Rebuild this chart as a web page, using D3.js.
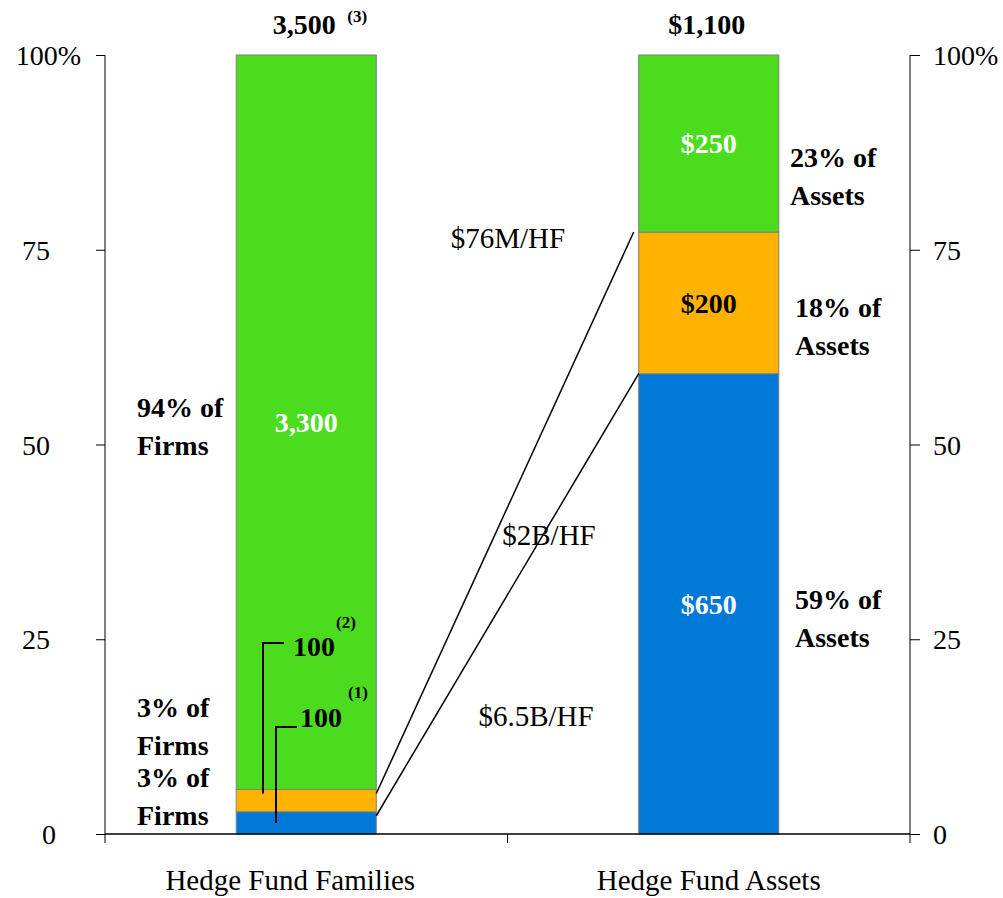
<!DOCTYPE html>
<html>
<head>
<meta charset="utf-8">
<script src="https://cdn.jsdelivr.net/npm/d3@7"></script>
<style>
  html, body { margin: 0; padding: 0; background: #fff; }
  svg { display: block; font-family: "Liberation Serif", "Times New Roman", serif; }
</style>
</head>
<body>
<svg id="chart" width="1003" height="898"></svg>
<script>
// Categories on the x axis
const categories = ["Hedge Fund Families", "Hedge Fund Assets"];

// Stack order, bottom to top
const tiers = ["top", "middle", "rest"];
const tierColors = ["#0078d7", "#ffb300", "#4cdc1e"];

// Number of hedge fund families in each tier
const familyCounts = [100, 100, 3300];
// Assets ($B) held by each tier
const assetValues = [650, 200, 250];

// Totals printed above the bars
const totalLabels = ["3,500", "$1,100"];
const totalNotes = ["(3)", ""];

// Labels inside the segments
const familySegmentLabels = ["100", "100", "3,300"];
const familyNotes = ["(1)", "(2)", ""];
const assetSegmentLabels = ["$650", "$200", "$250"];

// Share captions next to the bars
const familyShares = [["3% of", "Firms"], ["3% of", "Firms"], ["94% of", "Firms"]];
const assetShares = [["59% of", "Assets"], ["18% of", "Assets"], ["23% of", "Assets"]];

// Average assets per fund in each tier
const perFund = ["$6.5B/HF", "$2B/HF", "$76M/HF"];

// Axis ticks
const yTicks = [0, 25, 50, 75, 100];

const svg = d3.select("#chart");
const plotL = 105, plotR = 910, plotT = 55, plotB = 834;

const x = d3.scaleBand().domain(categories).range([plotL, plotR]).padding(0);
const y = d3.scaleLinear().domain([0, 100]).range([plotB, plotT]);
const barW = x.bandwidth() * 0.348;
const barX = c => x(c) + (x.bandwidth() - barW) / 2;

// Percent-stacked series
function stackPct(vals) {
  const total = d3.sum(vals);
  let acc = 0;
  return vals.map((v, i) => {
    const y0 = acc / total * 100;
    acc += v;
    return { tier: tiers[i], i, y0, y1: acc / total * 100, value: v };
  });
}
const stacks = [stackPct(familyCounts), stackPct(assetValues)];

// Bars
stacks.forEach((segs, ci) => {
  svg.append("g").selectAll("rect").data(segs).join("rect")
    .attr("x", barX(categories[ci]))
    .attr("width", barW)
    .attr("y", d => y(d.y1))
    .attr("height", d => y(d.y0) - y(d.y1))
    .attr("fill", d => tierColors[d.i])
    .attr("stroke", "#7f7f7f")
    .attr("stroke-width", 1);
});

// Axes
const fmtTick = d => d === 100 ? "100%" : String(d);
const yLeft = svg.append("g").attr("transform", `translate(${plotL},0)`)
  .call(d3.axisLeft(y).tickValues(yTicks).tickSize(9).tickFormat(fmtTick));
const yRight = svg.append("g").attr("transform", `translate(${plotR},0)`)
  .call(d3.axisRight(y).tickValues(yTicks).tickSize(10).tickFormat(fmtTick));
[yLeft, yRight].forEach(g => {
  g.select(".domain").attr("stroke", "#000").attr("d", `M0,${plotT}V${plotB}`);
  g.selectAll(".tick line").attr("stroke", "#000");
  g.selectAll(".tick text").attr("font-size", 28).attr("fill", "#000")
    .attr("font-family", "Liberation Serif").attr("dy", "0.34em");
});
yLeft.selectAll(".tick text").attr("x", d => d === 100 ? -24 : d === 0 ? -49 : -55);
yRight.selectAll(".tick text").attr("x", 23);

// Baseline and category ticks
const xAxis = svg.append("g");
xAxis.append("line").attr("x1", plotL).attr("x2", plotR).attr("y1", plotB).attr("y2", plotB)
  .attr("stroke", "#000").attr("stroke-width", 1.5);
const bounds = [plotL, ...categories.map(c => x(c) + x.bandwidth())];
xAxis.selectAll("line.tk").data(bounds).join("line").attr("class", "tk")
  .attr("x1", d => d).attr("x2", d => d).attr("y1", plotB).attr("y2", plotB + 9)
  .attr("stroke", "#000");
xAxis.selectAll("text").data(categories).join("text")
  .attr("x", (d, i) => x(d) + x.bandwidth() / 2 + (i === 0 ? -16 : 0))
  .attr("y", 890)
  .attr("text-anchor", "middle").attr("font-size", 29)
  .text(d => d);

// Totals above bars
categories.forEach((c, ci) => {
  const cx = barX(c) + barW / 2;
  svg.append("text").attr("x", cx - 2).attr("y", 34).attr("text-anchor", "middle")
    .attr("font-size", 28).attr("font-weight", "bold").text(totalLabels[ci]);
  if (totalNotes[ci]) {
    svg.append("text").attr("x", cx + 41).attr("y", 22).attr("font-size", 17)
      .attr("font-weight", "bold").text(totalNotes[ci]);
  }
});

// Segment labels on the asset bar
const aCx = barX(categories[1]) + barW / 2;
stacks[1].forEach(d => {
  svg.append("text").attr("x", aCx).attr("y", y((d.y0 + d.y1) / 2)).attr("dy", "0.35em")
    .attr("text-anchor", "middle").attr("font-size", 28).attr("font-weight", "bold")
    .attr("fill", d.i === 1 ? "#000" : "#fff").text(assetSegmentLabels[d.i]);
});

// Segment labels on the families bar
const fCx = barX(categories[0]) + barW / 2;
const fRest = stacks[0][2];
svg.append("text").attr("x", fCx).attr("y", y((fRest.y0 + fRest.y1) / 2)).attr("dy", "0.35em")
  .attr("text-anchor", "middle").attr("font-size", 28).attr("font-weight", "bold")
  .attr("fill", "#fff").text(familySegmentLabels[2]);

// Small tiers: labels with leader lines into the thin segments
const leaders = [
  { i: 1, lx: 263, ly: 643, tx: 293, ty: 656, nx: 336, ny: 628, endPct: 5.2 },
  { i: 0, lx: 276, ly: 727, tx: 300, ty: 727, nx: 348, ny: 698, endPct: 1.4 }
];
leaders.forEach(l => {
  svg.append("path")
    .attr("d", `M${l.lx + 21},${l.ly}H${l.lx}V${y(l.endPct)}`)
    .attr("fill", "none").attr("stroke", "#000").attr("stroke-width", 2);
  svg.append("text").attr("x", l.tx).attr("y", l.ty).attr("font-size", 28)
    .attr("font-weight", "bold").text(familySegmentLabels[l.i]);
  svg.append("text").attr("x", l.nx).attr("y", l.ny).attr("font-size", 17)
    .attr("font-weight", "bold").text(familyNotes[l.i]);
});

// Two-line share captions
function caption(lines, xPos, centerPct) {
  const cy = y(centerPct);
  const t = svg.append("text").attr("font-size", 28).attr("font-weight", "bold");
  lines.forEach((s, k) => {
    t.append("tspan").attr("x", xPos).attr("y", cy + (k - 0.5) * 38).attr("dy", "0.35em").text(s);
  });
}
const familyShareAt = [4.9, 13.9, 52.3];
familyShares.forEach((s, i) => caption(s, 137, familyShareAt[i]));
const assetShareAt = [27.7, 65.2, 84.5];
const assetShareX = [795, 795, 790];
assetShares.forEach((s, i) => caption(s, assetShareX[i], assetShareAt[i]));

// Connectors between the tier boundaries of the two bars
const fRight = barX(categories[0]) + barW;
const aLeft = barX(categories[1]);
[0, 1].forEach(k => {
  svg.append("line")
    .attr("x1", fRight).attr("y1", y(stacks[0][k].y1) + 4)
    .attr("x2", aLeft - (k === 1 ? 5 : 0)).attr("y2", y(stacks[1][k].y1))
    .attr("stroke", "#000").attr("stroke-width", 1.5);
});

// Average size per fund
const perFundPos = [[536, 716], [549, 535], [508, 238]];
perFund.forEach((s, i) => {
  svg.append("text").attr("x", perFundPos[i][0]).attr("y", perFundPos[i][1]).attr("dy", "0.35em")
    .attr("text-anchor", "middle").attr("font-size", 29).text(s);
});
</script>
</body>
</html>
